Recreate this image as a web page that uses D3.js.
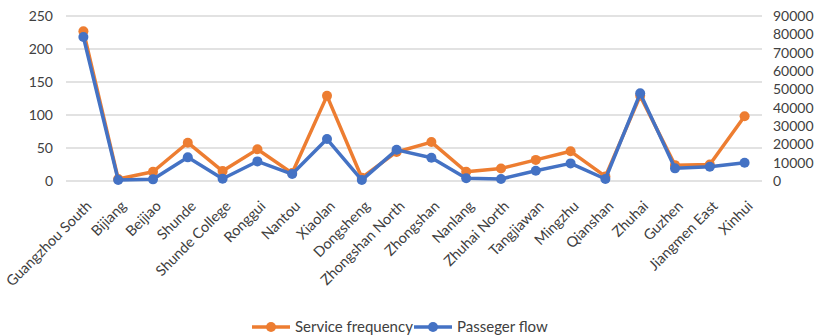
<!DOCTYPE html>
<html>
<head>
<meta charset="utf-8">
<script src="https://cdn.jsdelivr.net/npm/d3@7"></script>
<style>
  body { margin: 0; background: #fff; }
  svg text { font-family: Lato, "Liberation Sans", sans-serif; fill: #404040; }
</style>
</head>
<body>
<svg width="815" height="336"></svg>
<script>
// stations along the line
var stations = ["Guangzhou South", "Bijiang", "Beijiao", "Shunde", "Shunde College", "Ronggui",
  "Nantou", "Xiaolan", "Dongsheng", "Zhongshan North", "Zhongshan", "Nanlang", "Zhuhai North",
  "Tangjiawan", "Mingzhu", "Qianshan", "Zhuhai", "Guzhen", "Jiangmen East", "Xinhui"];

// service frequency (left axis)
var frequency = [227, 3, 14, 58, 15, 48, 12, 129, 5, 44, 59, 14, 19, 32, 45, 7, 129, 24, 25, 98];

// passenger flow (right axis)
var flow = [78500, 500, 900, 12900, 1200, 10700, 3800, 22900, 500, 17000, 12700, 1500, 1100,
  5600, 9600, 1100, 47800, 6900, 7800, 10000];

var leftTicks = [0, 50, 100, 150, 200, 250];
var rightTicks = [0, 10000, 20000, 30000, 40000, 50000, 60000, 70000, 80000, 90000];

var svg = d3.select("svg");
var margin = {top: 16, right: 53, bottom: 155, left: 66};
var width = +svg.attr("width") - margin.left - margin.right;
var height = +svg.attr("height") - margin.top - margin.bottom;
var group = svg.append("g").attr("transform", "translate(" + margin.left + "," + margin.top + ")");

var x = d3.scaleBand().domain(stations).range([0, width]);
var yLeft = d3.scaleLinear().domain([0, 250]).range([height, 0]);
var yRight = d3.scaleLinear().domain([0, 90000]).range([height, 0]);

var orange = "#ED7D31", blue = "#4472C4";

/* gridlines */
group.append("g")
  .selectAll("line")
  .data(leftTicks)
  .join("line")
    .attr("x1", 0).attr("x2", width)
    .attr("y1", function(d) { return yLeft(d); })
    .attr("y2", function(d) { return yLeft(d); })
    .attr("stroke", "#d9d9d9")
    .attr("stroke-width", 1.5);

/* left axis */
var leftAxis = group.append("g")
  .call(d3.axisLeft(yLeft).tickValues(leftTicks).tickSize(0).tickPadding(13));
leftAxis.select(".domain").remove();
leftAxis.selectAll("text").style("font-size", "14px");

/* right axis */
var rightAxis = group.append("g")
  .attr("transform", "translate(" + width + ",0)")
  .call(d3.axisRight(yRight).tickValues(rightTicks).tickFormat(d3.format("d")).tickSize(0).tickPadding(11));
rightAxis.select(".domain").remove();
rightAxis.selectAll("text").style("font-size", "14px");

/* category labels */
var bottomAxis = group.append("g")
  .attr("transform", "translate(0," + height + ")")
  .call(d3.axisBottom(x).tickSize(0));
bottomAxis.select(".domain").remove();
bottomAxis.selectAll("text")
  .style("font-size", "14.5px")
  .attr("text-anchor", "end")
  .attr("dy", 0)
  .attr("y", 0)
  .attr("transform", "translate(9,26) rotate(-45)");

function cx(d, i) { return x(stations[i]) + x.bandwidth() / 2; }

/* service frequency */
group.append("path")
  .datum(frequency)
  .attr("fill", "none")
  .attr("stroke", orange)
  .attr("stroke-width", 3.5)
  .attr("stroke-linejoin", "round")
  .attr("d", d3.line().x(cx).y(function(d) { return yLeft(d); }));
group.append("g").selectAll("circle")
  .data(frequency)
  .join("circle")
    .attr("cx", cx)
    .attr("cy", function(d) { return yLeft(d); })
    .attr("r", 5)
    .attr("fill", orange);

/* passenger flow */
group.append("path")
  .datum(flow)
  .attr("fill", "none")
  .attr("stroke", blue)
  .attr("stroke-width", 3.5)
  .attr("stroke-linejoin", "round")
  .attr("d", d3.line().x(cx).y(function(d) { return yRight(d); }));
group.append("g").selectAll("circle")
  .data(flow)
  .join("circle")
    .attr("cx", cx)
    .attr("cy", function(d) { return yRight(d); })
    .attr("r", 5)
    .attr("fill", blue);

/* legend */
var legendItems = [{name: "Service frequency", color: orange, x: 252},
                   {name: "Passeger flow", color: blue, x: 414}];
var legend = svg.append("g").attr("transform", "translate(0,327)");
var item = legend.selectAll("g").data(legendItems).join("g")
  .attr("transform", function(d) { return "translate(" + d.x + ",0)"; });
item.append("line")
  .attr("x1", 0).attr("x2", 38)
  .attr("stroke", function(d) { return d.color; })
  .attr("stroke-width", 3.5);
item.append("circle")
  .attr("cx", 19).attr("r", 5)
  .attr("fill", function(d) { return d.color; });
item.append("text")
  .attr("x", 43)
  .attr("dy", "0.35em")
  .style("font-size", "15px")
  .text(function(d) { return d.name; });
</script>
</body>
</html>
